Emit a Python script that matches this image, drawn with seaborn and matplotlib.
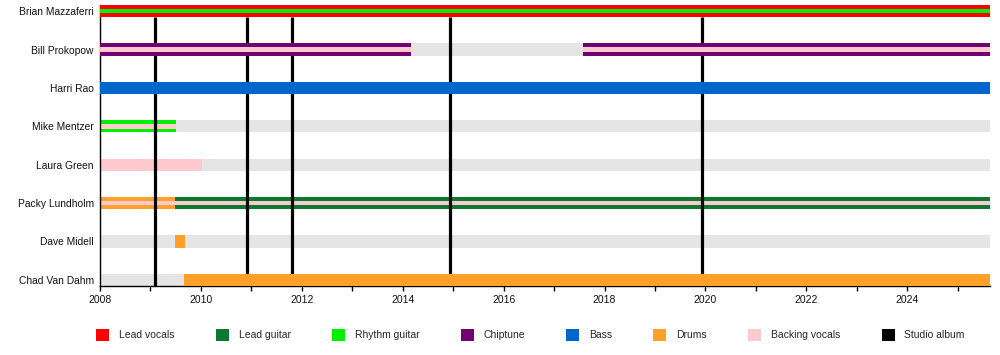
import matplotlib
matplotlib.use("Agg")
import matplotlib.pyplot as plt
from matplotlib.patches import Patch
from matplotlib.ticker import MultipleLocator
import seaborn as sns
import pandas as pd

# ---------------- data ----------------
members = ["Brian Mazzaferri", "Bill Prokopow", "Harri Rao", "Mike Mentzer",
           "Laura Green", "Packy Lundholm", "Dave Midell", "Chad Van Dahm"]
front_members = ["Brian Mazzaferri", "Bill Prokopow", "Harri Rao", "Chad Van Dahm"]

start_year = 2008.0
present = 2025.64

seg_member = ["Brian Mazzaferri", "Bill Prokopow", "Bill Prokopow", "Harri Rao",
              "Mike Mentzer", "Laura Green", "Packy Lundholm", "Packy Lundholm",
              "Dave Midell", "Chad Van Dahm"]
seg_start = [2008.0, 2008.0, 2017.58, 2008.0, 2008.0, 2008.0, 2008.0, 2009.48,
             2009.49, 2009.66]
seg_end = [present, 2014.16, present, present, 2009.50, 2010.02, 2009.48, present,
           2009.68, present]
seg_role = ["Lead vocals", "Chiptune", "Chiptune", "Bass", "Rhythm guitar",
            "Backing vocals", "Drums", "Lead guitar", "Drums", "Drums"]
seg_inner = ["Rhythm guitar", "Backing vocals", "Backing vocals", None,
             "Backing vocals", None, "Backing vocals", "Backing vocals", None, None]

album_years = [2009.09, 2010.91, 2011.81, 2014.94, 2019.93]

roles = ["Lead vocals", "Lead guitar", "Rhythm guitar", "Chiptune", "Bass",
         "Drums", "Backing vocals", "Studio album"]
role_colors = ["#ff0000", "#0a7a33", "#00f000", "#730073", "#0066cc",
               "#ffa028", "#ffcace", "#000000"]
inactive_color = "#e5e5e5"

# ---------------- figure ----------------
sns.set_theme(style="white")
plt.rcParams["font.family"] = ["Liberation Sans", "DejaVu Sans"]

color_of = dict(zip(roles, role_colors))
pos_of = {m: i for i, m in enumerate(members)}

segs = pd.DataFrame({"member": seg_member, "start": seg_start, "end": seg_end,
                     "role": seg_role, "inner": seg_inner})
segs["y"] = segs["member"].map(pos_of)
segs["front"] = segs["member"].isin(front_members)

fig = plt.figure(figsize=(10, 3.55), dpi=100)
ax = fig.add_axes([0.1, 1 - 286 / 355, 0.89, 281 / 355])

h = 0.32
inner_h = h * 0.37

# inactive background rows
ax.barh(y=list(range(len(members))), width=present - start_year, left=start_year,
        height=h, color=inactive_color, linewidth=0, zorder=1)

for _, r in segs.iterrows():
    z = 4 if r["front"] else 2
    ax.barh(y=r["y"], width=r["end"] - r["start"], left=r["start"], height=h,
            color=color_of[r["role"]], linewidth=0, zorder=z)
    if r["inner"] is not None:
        ax.barh(y=r["y"], width=r["end"] - r["start"], left=r["start"],
                height=inner_h, color=color_of[r["inner"]], linewidth=0,
                zorder=z + 0.1)

# studio albums
ax.vlines(album_years, ymin=h / 2, ymax=len(members) - 1 + h / 2,
          color=color_of["Studio album"], linewidth=2.3, zorder=3)

ax.set_xlim(start_year, present)
ax.set_ylim(len(members) - 1 + h / 2, -h / 2)
ax.set_yticks(range(len(members)))
ax.set_yticklabels(members)
ax.xaxis.set_major_locator(MultipleLocator(2))
ax.xaxis.set_minor_locator(MultipleLocator(1))
ax.xaxis.set_major_formatter(matplotlib.ticker.FuncFormatter(lambda v, p: f"{int(round(v))}"))

ax.tick_params(axis="x", which="both", direction="out", length=3.5, width=1,
               color="black", labelsize=7.5, pad=3, bottom=True)
ax.tick_params(axis="y", length=0, labelsize=7.4, pad=4.5)
for s in ["top", "right"]:
    ax.spines[s].set_visible(False)
for s in ["left", "bottom"]:
    ax.spines[s].set_color("black")
    ax.spines[s].set_linewidth(1)
ax.set_xlabel("")
ax.set_ylabel("")
for lab in ax.get_xticklabels() + ax.get_yticklabels():
    lab.set_color("#111111")

handles = [Patch(facecolor=c, edgecolor="none", label=r) for r, c in zip(roles, role_colors)]
fig.legend(handles=handles, loc="center", bbox_to_anchor=(0.5305, 1 - 335 / 355),
           ncol=len(roles), frameon=False, fontsize=7.5, handlelength=1.25,
           handleheight=1.3, handletextpad=0.95, columnspacing=3.95,
           borderaxespad=0, borderpad=0)

fig.savefig("out.png", dpi=100)
